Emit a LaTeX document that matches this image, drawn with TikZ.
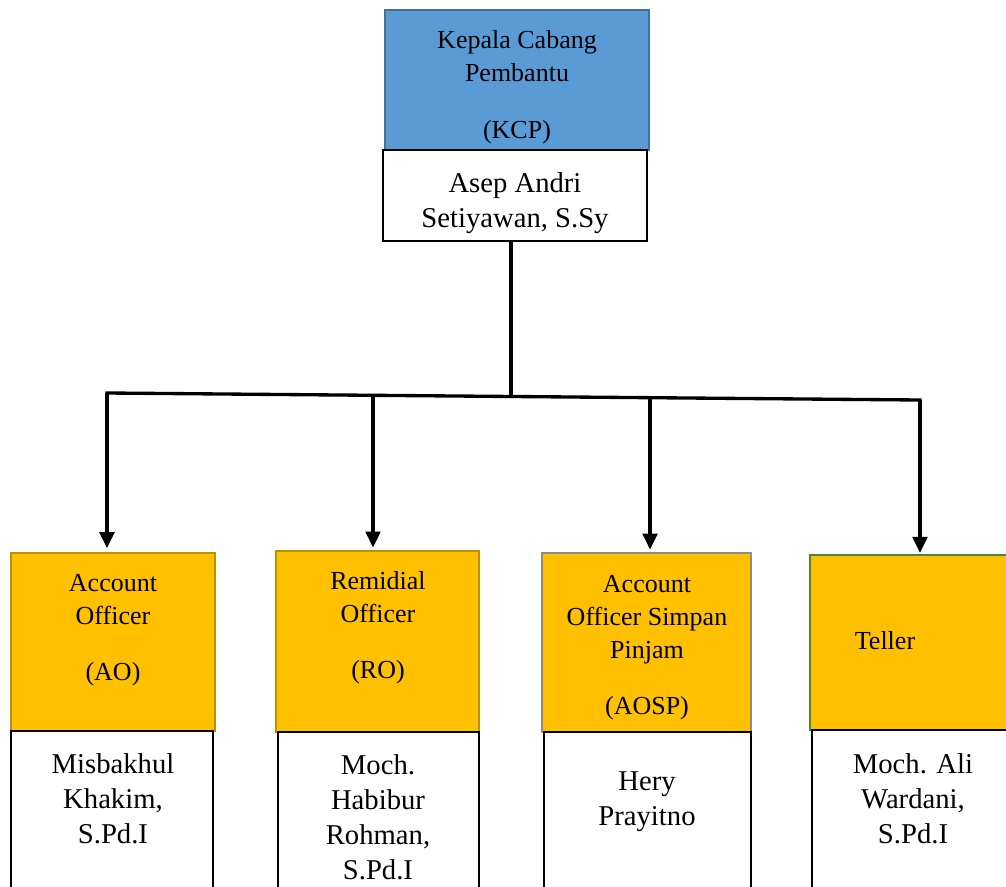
\documentclass[tikz,border=0pt]{standalone}
\usepackage{fontspec}
\setmainfont{Liberation Serif}
\usetikzlibrary{arrows.meta}
\definecolor{kblue}{HTML}{5B9BD5}
\definecolor{kblueb}{HTML}{41719C}
\definecolor{korange}{HTML}{FFC000}
\definecolor{kgold}{HTML}{BF9000}
\definecolor{kgray}{HTML}{8C8C8C}
\definecolor{kgreen}{HTML}{538135}
\tikzset{
  hdrbox/.style={line width=1.2pt, inner sep=0pt},
  namebox/.style={draw=black, fill=white, line width=2pt, inner sep=0pt},
  htxt/.style={align=center, inner sep=0pt, font=\fontsize{19.5}{24.75}\selectfont},
  ntxt/.style={align=center, inner sep=0pt, font=\fontsize{21.5}{26.25}\selectfont},
  conn/.style={line width=2.5pt, line cap=rect},
  arr/.style={line width=2.5pt, -{Triangle[length=12pt,width=11pt]}},
}
\begin{document}
\begin{tikzpicture}[x=0.75pt,y=-0.75pt]
\useasboundingbox (0,0) rectangle (1006,886);
\clip (0,0) rectangle (1006,886);
% top
\node[hdrbox, draw=kblueb, fill=kblue, minimum width=198pt, minimum height=105pt] (kcp) at (517,80) {};
\node[namebox, minimum width=198pt, minimum height=68.25pt] (asep) at (515,195.5) {};
\node[htxt] (tkcp) at (517,87.5) {Kepala Cabang\\Pembantu\\[18pt](KCP)};
\node[ntxt] (tasep) at (515,203.5) {Asep Andri\\Setiyawan, S.Sy};
% bottom headers
\node[hdrbox, draw=kgold, fill=korange, minimum width=153pt, minimum height=133.5pt] (ao) at (113,642) {};
\node[hdrbox, draw=kgold, fill=korange, minimum width=152.25pt, minimum height=135.75pt] (ro) at (377.5,641.5) {};
\node[hdrbox, draw=kgray, fill=korange, minimum width=156.75pt, minimum height=134.25pt] (aosp) at (646.5,642.5) {};
\node[hdrbox, draw=kgreen, fill=korange, minimum width=153pt, minimum height=131.25pt] (tel) at (912,642.5) {};
% name boxes
\node[namebox, minimum width=151.5pt, minimum height=126.75pt] (nao) at (112,815.5) {};
\node[namebox, minimum width=150.75pt, minimum height=126pt] (nro) at (378.5,816) {};
\node[namebox, minimum width=155.25pt, minimum height=126pt] (naosp) at (647.5,816) {};
\node[namebox, minimum width=153pt, minimum height=127.5pt] (ntel) at (914,815) {};
% header texts
\node[htxt] (tao) at (113,630.5) {Account\\Officer\\[17pt](AO)};
\node[htxt] (tro) at (378,628) {Remidial\\Officer\\[17pt](RO)};
\node[htxt] (taosp) at (647,648) {Account\\Officer Simpan\\Pinjam\\[17pt](AOSP)};
\node[htxt] (ttel) at (885,641) {Teller};
% name texts
\node[ntxt] (tnao) at (113,798.5) {Misbakhul\\Khakim,\\S.Pd.I};
\node[ntxt] (tnro) at (378,817.5) {Moch.\\Habibur\\Rohman,\\S.Pd.I};
\node[ntxt] (tnaosp) at (647,801.5) {Hery\\Prayitno};
\node[ntxt] (tntel) at (913,798.5) {Moch. Ali\\Wardani,\\S.Pd.I};
% connectors
\coordinate (j) at (511,396);
\coordinate (d1) at (107,393);
\coordinate (d2) at (373,396);
\coordinate (d3) at (650,399);
\coordinate (d4) at (920,400);
\draw[conn] (asep.south -| j) -- (j);
\draw[conn] (d1) -- (d4);
\draw[arr] (d1) -- ([yshift=3pt]d1 |- ao.north);
\draw[arr] (d2) -- ([yshift=2pt]d2 |- ro.north);
\draw[arr] (d3) -- ([yshift=2pt]d3 |- aosp.north);
\draw[arr] (d4) -- ([yshift=1pt]d4 |- tel.north);
\end{tikzpicture}
\end{document}
